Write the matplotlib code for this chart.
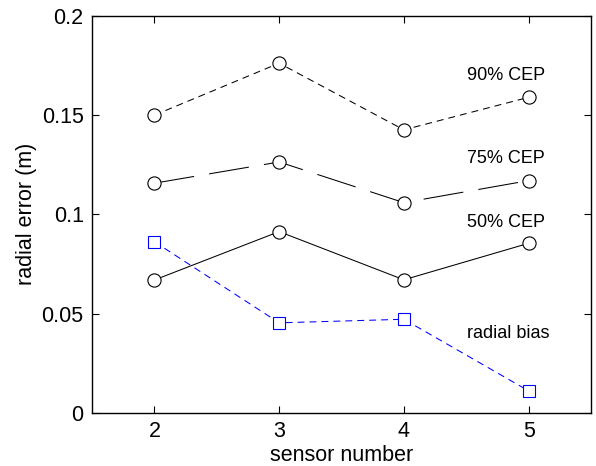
import matplotlib.pyplot as plt

plt.rcParams['font.family'] = ['Liberation Sans', 'DejaVu Sans']
plt.rcParams['lines.scale_dashes'] = False

sensor = [2, 3, 4, 5]
cep90 = [0.150, 0.1762, 0.1426, 0.159]
cep75 = [0.1157, 0.1264, 0.1059, 0.117]
cep50 = [0.0669, 0.0913, 0.0670, 0.0854]
bias = [0.0862, 0.0453, 0.0471, 0.0110]

fig = plt.figure(figsize=(5.96, 4.66), dpi=100)
ax = fig.add_axes([0.1544, 0.1144, 0.8372, 0.8513])

circ = dict(marker='o', markersize=9.5, markerfacecolor='white',
            markeredgecolor='black', markeredgewidth=0.8)
ax.plot(sensor, cep90, color='black', lw=0.75, dashes=(5, 3.6), **circ)
ax.plot(sensor, cep75, color='black', lw=0.75, dashes=(29, 11), **circ)
ax.plot(sensor, cep50, color='black', lw=0.75, ls='-', **circ)
ax.plot(sensor, bias, color='blue', lw=0.75, dashes=(5, 3.6),
        marker='s', markersize=8, markerfacecolor='white',
        markeredgecolor='blue', markeredgewidth=0.8)

ax.text(4.82, 0.170, '90% CEP', ha='center', va='center', fontsize=13)
ax.text(4.82, 0.128, '75% CEP', ha='center', va='center', fontsize=13)
ax.text(4.82, 0.096, '50% CEP', ha='center', va='center', fontsize=13)
ax.text(4.84, 0.040, 'radial bias', ha='center', va='center', fontsize=13)

ax.set_xlim(1.5, 5.5)
ax.set_ylim(0, 0.2)
ax.set_xticks([2, 3, 4, 5])
ax.set_yticks([0, 0.05, 0.1, 0.15, 0.2])
ax.set_yticklabels(['0', '0.05', '0.1', '0.15', '0.2'])
ax.tick_params(direction='in', top=True, right=True, length=5, width=0.8,
               labelsize=15.5, pad=6)
for s in ax.spines.values():
    s.set_linewidth(1.0)

ax.set_xlabel('sensor number', fontsize=15.5, labelpad=2)
ax.set_ylabel('radial error (m)', fontsize=15.5, labelpad=3)

fig.savefig('out.png', dpi=100)
